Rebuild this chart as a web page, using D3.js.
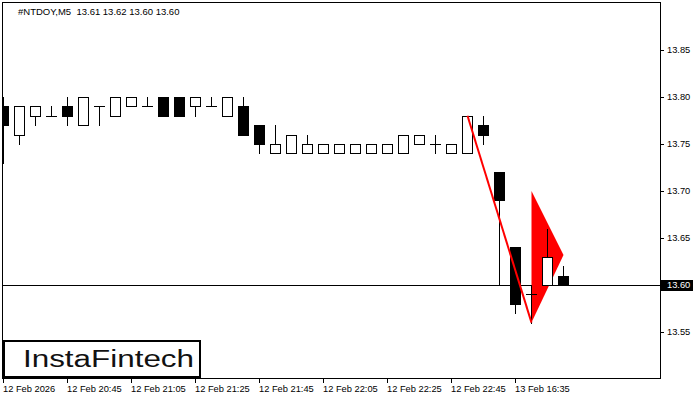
<!DOCTYPE html>
<html><head><meta charset="utf-8">
<script src="https://cdn.jsdelivr.net/npm/d3@7/dist/d3.min.js"></script>
<style>
body{margin:0;background:#fff}
svg{display:block}
text{font-family:"Liberation Sans",Arial,sans-serif}
</style>
</head><body>
<svg id="c" width="700" height="400"></svg>
<script>
const titleText = "#NTDOY,M5  13.61 13.62 13.60 13.60";
const opens  = [13.79,13.76,13.78,13.78,13.79,13.77,13.79,13.78,13.79,13.79,13.80,13.80,13.79,13.79,13.78,13.79,13.77,13.74,13.74,13.74,13.74,13.74,13.74,13.74,13.74,13.74,13.75,13.75,13.74,13.74,13.77,13.72,13.64,13.59,13.60,13.61];
const highs  = [13.80,13.79,13.79,13.79,13.80,13.80,13.79,13.80,13.80,13.80,13.80,13.80,13.80,13.80,13.80,13.80,13.77,13.77,13.76,13.76,13.75,13.75,13.75,13.75,13.75,13.76,13.76,13.76,13.75,13.78,13.78,13.72,13.64,13.60,13.66,13.62];
const lows   = [13.73,13.75,13.77,13.78,13.77,13.77,13.77,13.78,13.79,13.79,13.78,13.78,13.78,13.79,13.78,13.76,13.74,13.74,13.74,13.74,13.74,13.74,13.74,13.74,13.74,13.74,13.75,13.74,13.74,13.74,13.75,13.60,13.57,13.56,13.60,13.60];
const closes = [13.77,13.79,13.79,13.78,13.78,13.80,13.79,13.80,13.80,13.79,13.78,13.78,13.80,13.79,13.80,13.76,13.75,13.75,13.76,13.75,13.75,13.75,13.75,13.75,13.75,13.76,13.76,13.75,13.75,13.78,13.76,13.69,13.58,13.59,13.63,13.60];
const xTickIdx = [0,4,8,12,16,20,24,28,32];
const xTickLabels = ["12 Feb 2026","12 Feb 20:45","12 Feb 21:05","12 Feb 21:25","12 Feb 21:45","12 Feb 22:05","12 Feb 22:25","12 Feb 22:45","13 Feb 16:35"];
const yTicks = [13.55,13.60,13.65,13.70,13.75,13.80,13.85];
const lastPrice = 13.60;
const poleIdx = [29,33];
const polePrice = [13.78,13.56];
const flagIdx = [33,35,33];
const flagPrice = [13.70,13.632,13.56];
const logoText = "InstaFintech";

const svg = d3.select("#c");
const x = d3.scaleLinear().domain([0,41]).range([3,659]);
const y = d3.scaleLinear().domain([13.55,13.85]).range([332,50]);
const cx = i => x(i) + 0.5;
const py = p => Math.round(y(p)) + 0.5;

svg.append("defs").append("clipPath").attr("id","plot")
  .append("rect").attr("x",3).attr("y",3).attr("width",657).attr("height",375);

// price line
svg.append("line").attr("x1",3).attr("x2",660).attr("y1",py(lastPrice)).attr("y2",py(lastPrice))
  .attr("stroke","#000").attr("stroke-width",1).attr("shape-rendering","crispEdges");

const g = svg.append("g").attr("clip-path","url(#plot)");

// pennant
g.append("polygon")
  .attr("points", flagIdx.map((d,i)=>[cx(d), y(flagPrice[i])].join(",")).join(" "))
  .attr("fill","#ff0000");

const data = opens.map((o,i)=>({i,o,h:highs[i],l:lows[i],c:closes[i]}));
const cg = g.append("g").attr("shape-rendering","crispEdges");
data.forEach(d=>{
  const X = cx(d.i);
  cg.append("line").attr("x1",X).attr("x2",X).attr("y1",py(d.h)-0.5).attr("y2",py(d.l)+0.5)
    .attr("stroke","#000");
  if (Math.abs(d.o-d.c) < 1e-9) {
    cg.append("line").attr("x1",X-5.5).attr("x2",X+5.5).attr("y1",py(d.o)).attr("y2",py(d.o))
      .attr("stroke","#000");
  } else {
    const top = py(Math.max(d.o,d.c)), bot = py(Math.min(d.o,d.c));
    cg.append("rect").attr("x",X-5).attr("width",10).attr("y",top).attr("height",bot-top)
      .attr("fill", d.c>d.o ? "#fff" : "#000").attr("stroke","#000");
  }
});

// pole line
g.append("line")
  .attr("x1",cx(poleIdx[0])).attr("y1",y(polePrice[0]))
  .attr("x2",cx(poleIdx[1])).attr("y2",y(polePrice[1]))
  .attr("stroke","#ff0000").attr("stroke-width",2);

// frame
svg.append("rect").attr("x",2.5).attr("y",2.5).attr("width",658).attr("height",376)
  .attr("fill","none").attr("stroke","#000").attr("shape-rendering","crispEdges");

// right axis
const ya = svg.append("g").attr("transform","translate(660,0)")
  .call(d3.axisRight(y).tickValues(yTicks).tickSize(4).tickFormat(d3.format(".2f")));
ya.select(".domain").remove();
ya.selectAll("text").attr("x",7).attr("font-size","9.3px").attr("font-family","Liberation Sans, Arial, sans-serif").attr("fill","#000");
ya.selectAll("line").attr("shape-rendering","crispEdges");

// bottom axis
const xa = svg.append("g").attr("transform","translate(0,378)")
  .call(d3.axisBottom(x).tickValues(xTickIdx).tickSize(5).tickFormat((d,i)=>xTickLabels[i]));
xa.select(".domain").remove();
xa.selectAll("text").attr("text-anchor","start").attr("x",-0.5).attr("y",14).attr("dy",null)
  .attr("font-size","9.3px").attr("font-family","Liberation Sans, Arial, sans-serif").attr("fill","#000");
xa.selectAll("line").attr("shape-rendering","crispEdges");

// current price box
svg.append("rect").attr("x",661).attr("y",Math.round(y(lastPrice))-5).attr("width",32).attr("height",11).attr("fill","#000");
svg.append("text").attr("x",667).attr("y",y(lastPrice)+0.5).attr("dy","0.32em")
  .attr("font-size","9.3px").attr("fill","#fff").text(d3.format(".2f")(lastPrice));

// title
svg.append("text").attr("x",18).attr("y",14.5).attr("font-size","9.5px").attr("fill","#000")
  .style("white-space","pre").text(titleText);

// logo
svg.append("rect").attr("x",4).attr("y",341).attr("width",196).attr("height",36)
  .attr("fill","#fff").attr("stroke","#000").attr("stroke-width",2);
svg.append("text").attr("x",23).attr("y",367.3).attr("font-family","Inter, 'Noto Sans', sans-serif")
  .attr("font-weight",500).attr("font-size","23px").attr("fill","#111")
  .attr("textLength",171).attr("lengthAdjust","spacingAndGlyphs").text(logoText);
</script>
</body></html>
